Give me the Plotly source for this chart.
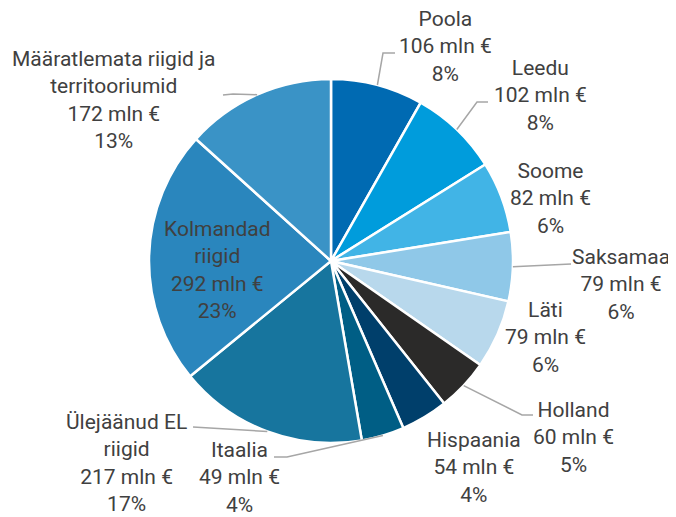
import math
import plotly.graph_objects as go

# ---- data ----
labels = ["Poola", "Leedu", "Soome", "Saksamaa", "Läti", "Holland", "Hispaania",
          "Itaalia", "Ülejäänud EL riigid", "Kolmandad riigid",
          "Määratlemata riigid ja territooriumid"]
label_text = ["Poola", "Leedu", "Soome", "Saksamaa", "Läti", "Holland", "Hispaania",
              "Itaalia", "Ülejäänud EL<br>riigid", "Kolmandad<br>riigid",
              "Määratlemata riigid ja<br>territooriumid"]
values = [106, 102, 82, 79, 79, 60, 54, 49, 217, 292, 172]
colors = ["#006ab2", "#009cdc", "#41b4e6", "#8fc8e8", "#b8d8ec", "#2b2a29",
          "#003f6b", "#005e85", "#17759e", "#2a86bd", "#3a93c6"]

# page body has an 8px margin; work in window pixel coordinates
OFF = 8
WIN_W, WIN_H = 676, 517
W, H = WIN_W - OFF, WIN_H - OFF
CX, CY, R = 331, 261, 182

# label layout (window-pixel positions of text block centres) and leader-line geometry
label_pos = {
    "Poola": (445, 46), "Leedu": (540, 95), "Soome": (550, 198),
    "Saksamaa": (621, 284), "Läti": (545, 337), "Holland": (573, 437),
    "Hispaania": (474, 467), "Itaalia": (239, 477),
    "Ülejäänud EL riigid": (126, 463), "Kolmandad riigid": (217, 270),
    "Määratlemata riigid ja territooriumid": (114, 100),
}
leaders = {
    "Poola": [(383, 53), (395, 53)],
    "Leedu": [(477, 102), (488, 102)],
    "Saksamaa": [(571, 264)],
    "Holland": [(522, 415), (533, 415)],
    "Itaalia": [(287, 457), (274, 457)],
    "Ülejäänud EL riigid": [(193, 427)],
    "Määratlemata riigid ja territooriumid": [(233, 94), (223, 95)],
}

total = sum(values)
fig = go.Figure()
fig.add_trace(go.Pie(
    labels=labels, values=values, sort=False, direction="clockwise", rotation=0,
    marker=dict(colors=colors, line=dict(color="white", width=2.5)),
    textinfo="none", hoverinfo="label+value+percent", showlegend=False,
    domain=dict(x=[(CX - R - OFF) / W, (CX + R - OFF) / W],
                y=[1 - (CY + R - OFF) / H, 1 - (CY - R - OFF) / H]),
))

# invisible pixel axes for overlay
fig.add_trace(go.Scatter(x=[None], y=[None], showlegend=False, hoverinfo="skip"))

shapes = []
annotations = []
cum = 0
for lab, txt, v in zip(labels, label_text, values):
    mid = (cum + v / 2) / total * 2 * math.pi
    cum += v
    sx = CX + R * math.sin(mid)
    sy = CY - R * math.cos(mid)
    if lab in leaders:
        pts = [(sx, sy)] + leaders[lab]
        path = "M " + " L ".join(f"{x:.1f},{y:.1f}" for x, y in pts)
        shapes.append(dict(type="path", path=path, xref="x", yref="y",
                           line=dict(color="#a6a6a6", width=1.5)))
    pct = round(v / total * 100)
    lx, ly = label_pos[lab]
    annotations.append(dict(
        x=lx, y=ly, xref="x", yref="y", showarrow=False,
        text=f"{txt}<br>{v} mln €<br>{pct}%", align="center",
        xanchor="center", yanchor="middle", borderpad=0,
        font=dict(family="Roboto", size=21, color="#404040"),
    ))

fig.update_layout(
    width=W, height=H, margin=dict(l=0, r=0, t=0, b=0),
    paper_bgcolor="white", plot_bgcolor="rgba(0,0,0,0)",
    xaxis=dict(range=[OFF, WIN_W], visible=False, fixedrange=True),
    yaxis=dict(range=[WIN_H, OFF], visible=False, fixedrange=True),
    shapes=shapes, annotations=annotations,
)
fig.write_html("out.html")
